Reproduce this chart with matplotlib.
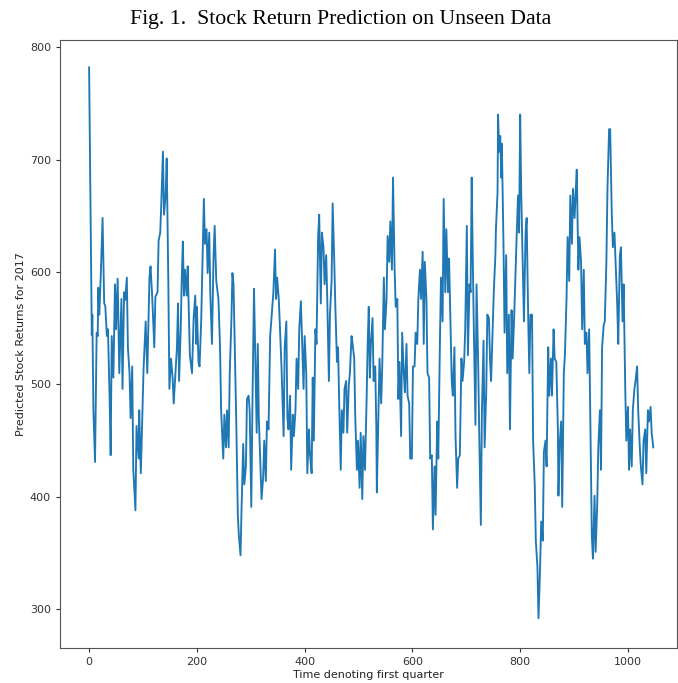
import matplotlib
matplotlib.use("Agg")
import matplotlib.pyplot as plt
import numpy as np

# sample index (time) and predicted return
days = [
    0, 5, 6, 8, 11, 13, 14, 16, 17, 19,
    22, 25, 28, 30, 33, 35, 38, 40, 42, 45,
    48, 50, 53, 56, 60, 62, 65, 67, 70, 72,
    75, 77, 80, 82, 86, 88, 92, 93, 96, 101,
    105, 108, 112, 114, 117, 121, 123, 127, 129, 132,
    134, 137, 139, 142, 144, 147, 149, 152, 155, 157,
    163, 165, 167, 170, 172, 174, 176, 178, 181, 183,
    187, 191, 194, 197, 199, 200, 203, 205, 208, 210,
    213, 215, 218, 220, 223, 225, 228, 231, 233, 236,
    240, 243, 245, 249, 251, 254, 256, 259, 261, 264,
    266, 268, 271, 273, 276, 278, 281, 283, 286, 288,
    291, 293, 296, 298, 301, 303, 306, 308, 311, 313,
    315, 318, 320, 323, 325, 328, 330, 333,
    336, 339, 342, 345, 347, 349, 352, 354, 357, 361,
    363, 366, 368, 370, 373, 375, 378, 380, 383, 385,
    388, 390, 393, 395, 398, 400, 403, 405, 408, 410,
    413, 415, 417, 420, 422, 425, 427, 430, 432, 435,
    437, 440, 442, 445, 447, 450, 452, 455, 457, 460,
    462, 464, 467, 469, 472, 474, 477, 479, 482, 484,
    487, 489, 492, 494, 497, 499, 502, 504, 507, 509,
    512, 515, 517, 519, 521, 523, 526, 528, 531, 533,
    534, 537, 539, 542, 544, 547, 549, 552, 554, 557,
    559, 562, 564, 567, 569, 572, 574, 576, 579, 581,
    584, 586, 589, 591, 594, 596, 599, 601, 604, 606,
    609, 611, 614, 616, 619, 621, 623, 626, 628, 631,
    633, 636, 638, 641, 643, 646, 648, 651, 653, 656,
    658, 661, 663, 666, 668, 670, 673, 675, 678, 680,
    683, 685, 688,
    691, 693, 696, 698, 701, 703, 706, 708, 710, 712,
    714, 717, 719, 722, 724, 727, 729, 732, 734, 737,
    739, 742, 744, 746, 749, 751, 754, 755, 758, 759,
    761, 763, 765, 766, 769, 771, 774, 776, 779, 781,
    784, 786, 789, 791, 793, 796, 798, 800, 802, 805,
    807, 810, 812, 815, 817, 819, 822, 824, 827, 829,
    832, 834, 837, 839, 842, 844, 847, 849, 852, 854,
    857, 859, 862, 864,
    867, 870, 871, 873, 876, 878, 881, 883, 886, 888,
    891, 893, 896, 898, 901, 903, 905, 908, 910, 913,
    915, 918, 920, 923, 925, 928, 930, 933, 935, 938,
    940, 943, 945, 948, 950, 952, 955, 957, 960, 962,
    965, 967, 970, 972, 975, 977, 980, 982, 985, 987,
    990, 992, 995, 997, 1000, 1002, 1004, 1007, 1009, 1012,
    1014, 1017, 1019, 1022, 1024, 1027, 1029, 1032, 1034, 1037,
    1039, 1042, 1044, 1047,
]

predicted = [
    782, 544, 562, 477, 431, 510, 546, 543, 586, 562,
    602, 648, 572, 570, 543, 549, 490, 437, 543, 506,
    589, 549, 594, 510, 576, 496, 582, 575, 595, 533,
    510, 470, 516, 424, 388, 463, 434, 477, 421, 513,
    556, 510, 595, 605, 579, 533, 578, 582, 628, 635,
    661, 707, 651, 668, 701, 592, 496, 523, 506, 483,
    533, 572, 503, 549, 595, 627, 579, 602, 579, 605,
    526, 510, 559, 579, 536, 569, 520, 516, 556, 599,
    665, 625, 638, 599, 635, 579, 536, 615, 641, 592,
    576, 533, 477, 434, 473, 444, 477, 444, 510, 556,
    599, 589, 516, 470, 384, 365, 348, 391, 447, 411,
    427, 487, 490, 477, 391, 477, 585, 536, 457, 536,
    470, 427, 398, 417, 450, 414, 467, 460,
    543, 562, 582, 620, 576, 595, 576, 553, 516, 454,
    533, 556, 470, 460, 490, 424, 473, 454, 477, 523,
    496, 549, 574, 543, 496, 543, 510, 421, 460, 437,
    421, 506, 450, 549, 536, 631, 651, 572, 635, 622,
    589, 615, 576, 503, 562, 592, 661, 609, 569, 520,
    533, 487, 424, 477, 457, 496, 503, 457, 500, 510,
    543, 536, 523, 470, 424, 450, 408, 457, 398, 454,
    424, 487, 536, 569, 506, 536, 559, 503, 516, 463,
    404, 477, 523, 483, 516, 595, 549, 576, 632, 609,
    645, 602, 684, 602, 569, 576, 487, 520, 454, 546,
    510, 493, 536, 490, 483, 434, 434, 516, 516, 546,
    536, 576, 602, 576, 618, 536, 609, 576, 510, 506,
    434, 437, 371, 427, 384, 467, 434, 536, 595, 556,
    665, 582, 638, 582, 612, 569, 503, 490, 533, 454,
    408, 434, 437,
    523, 503, 520, 549, 641, 526, 589, 582, 684, 612,
    549, 464, 589, 520, 457, 375, 477, 539, 444, 493,
    562, 559, 523, 503, 549, 582, 615, 638, 671, 740,
    707, 721, 684, 714, 625, 546, 615, 510, 562, 460,
    566, 523, 562, 595, 625, 668, 635, 740, 668, 599,
    556, 635, 648, 556, 510, 562, 562, 450, 411, 361,
    338, 292, 338, 378, 361, 440, 450, 427, 533, 490,
    523, 490, 549, 523,
    520, 460, 401, 444, 467, 391, 510, 526, 576, 631,
    592, 668, 625, 674, 648, 671, 691, 602, 631, 609,
    549, 602, 536, 546, 510, 549, 477, 365, 345, 401,
    351, 394, 444, 477, 424, 533, 553, 556, 609, 674,
    727, 727, 651, 622, 635, 609, 572, 536, 615, 622,
    556, 589, 496, 450, 480, 424, 460, 427, 477, 496,
    503, 516, 477, 444, 427, 411, 450, 460, 421, 477,
    467, 480, 457, 444,
]

title = "Fig. 1.  Stock Return Prediction on Unseen Data"
xlabel = "Time denoting first quarter"
ylabel = "Predicted Stock Returns for 2017"

fig = plt.figure(figsize=(6.78, 6.83), dpi=100)
ax = fig.add_axes([0.0885, 0.0512, 0.910, 0.890])

ax.plot(np.array(days), np.array(predicted), color="#1f77b4", linewidth=1.35)

ax.set_xlim(-54, 1091)
ax.set_ylim(265.5, 806.2)
ax.set_xticks([0, 200, 400, 600, 800, 1000])
ax.set_yticks([300, 400, 500, 600, 700, 800])
ax.tick_params(labelsize=8, colors="#333333", length=3)
for s in ax.spines.values():
    s.set_color("#555555")

ax.set_xlabel(xlabel, fontsize=8, color="#222222", labelpad=2)
ax.set_ylabel(ylabel, fontsize=8, color="#222222", labelpad=3)

fig.text(0.503, 0.972, title, ha="center", va="center",
         family="Liberation Serif", fontsize=15.7)

fig.savefig("out.png", dpi=100)
